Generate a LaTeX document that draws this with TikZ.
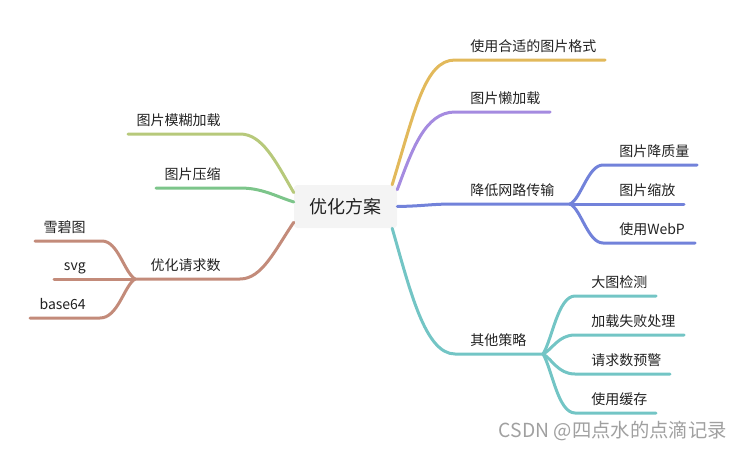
\documentclass[tikz,border=0pt]{standalone}
\usepackage{fontspec}
\setmainfont{Noto Sans CJK SC}
\definecolor{rootgray}{HTML}{F4F4F4}
\definecolor{cfmt}{HTML}{E2B95B}
\definecolor{clazy}{HTML}{A58BE0}
\definecolor{cnet}{HTML}{7282DA}
\definecolor{cmisc}{HTML}{73C5C5}
\definecolor{cblur}{HTML}{B7C97B}
\definecolor{czip}{HTML}{7CC58A}
\definecolor{creq}{HTML}{C38B7A}
\definecolor{wmgray}{HTML}{A0A0A0}
\begin{document}
\begin{tikzpicture}[x=0.75pt, y=-0.75pt,
  every node/.style={inner sep=0pt, font=\fontsize{10.5}{12}\selectfont, text=black!87},
  root/.style={fill=rootgray, rounded corners=2.5pt, minimum width=77.25pt,
    minimum height=32.25pt, font=\fontsize{13.5}{16}\selectfont},
  br/.style={line width=2.25pt, line cap=round},
  labr/.style={anchor=base west},
  labl/.style={anchor=base east}
]
  \useasboundingbox (0,0) rectangle (744,450);

  \node[root] (root) at (345.5,206.5) {优化方案};

  % right side
  \coordinate (fmtA) at (455,60);   \coordinate (fmtB) at (605,60);
  \coordinate (lazyA) at (455,112); \coordinate (lazyB) at (550,112);
  \coordinate (netA) at (455,204);  \coordinate (netF) at (570,204);
  \coordinate (miscA) at (455,354); \coordinate (miscF) at (543,354);

  \draw[br, cfmt] (root.25) .. controls (415,110) and (425,60) .. (fmtA) -- (fmtB);
  \draw[br, clazy] (root.18) .. controls (412,150) and (425,112) .. (lazyA) -- (lazyB);
  \draw[br, cnet] (root.east) .. controls (425,206) and (430,204) .. (netA) -- (netF);
  \draw[br, cmisc] (root.-25) .. controls (410,290) and (425,354) .. (miscA) -- (miscF);

  \node[labr] (fmt) at (470,51) {使用合适的图片格式};
  \node[labr] (lazy) at (470,103) {图片懒加载};
  \node[labr] (net) at (470,195) {降低网路传输};
  \node[labr] (misc) at (470,345) {其他策略};

  % 降低网路传输
  \coordinate (q1A) at (603,165); \coordinate (q1B) at (697,165);
  \coordinate (q2B) at (684,204);
  \coordinate (q3A) at (603,243); \coordinate (q3B) at (695,243);
  \draw[br, cnet] (netF) .. controls (581,199) and (588,165) .. (q1A) -- (q1B);
  \draw[br, cnet] (netF) -- (q2B);
  \draw[br, cnet] (netF) .. controls (581,209) and (588,243) .. (q3A) -- (q3B);
  \node[labr] (q1) at (619,156) {图片降质量};
  \node[labr] (q2) at (619,195) {图片缩放};
  \node[labr] (q3) at (619,234) {使用WebP};

  % 其他策略
  \coordinate (m1A) at (575,296); \coordinate (m1B) at (656,296);
  \coordinate (m2A) at (575,335); \coordinate (m2B) at (684,335);
  \coordinate (m3A) at (575,374); \coordinate (m3B) at (670,374);
  \coordinate (m4A) at (575,413); \coordinate (m4B) at (656,413);
  \draw[br, cmisc] (miscF) .. controls (552,340) and (558,296) .. (m1A) -- (m1B);
  \draw[br, cmisc] (miscF) .. controls (552,350) and (558,335) .. (m2A) -- (m2B);
  \draw[br, cmisc] (miscF) .. controls (552,359) and (558,374) .. (m3A) -- (m3B);
  \draw[br, cmisc] (miscF) .. controls (552,369) and (558,413) .. (m4A) -- (m4B);
  \node[labr] (m1) at (591,287) {大图检测};
  \node[labr] (m2) at (591,326) {加载失败处理};
  \node[labr] (m3) at (591,365) {请求数预警};
  \node[labr] (m4) at (591,404) {使用缓存};

  % left side
  \coordinate (blurA) at (240,134); \coordinate (blurB) at (128,134);
  \coordinate (zipA) at (240,188);  \coordinate (zipB) at (156,188);
  \coordinate (reqA) at (240,279);  \coordinate (reqF) at (135,279);

  \draw[br, cblur] (root.165) .. controls (275,160) and (262,134) .. (blurA) -- (blurB);
  \draw[br, czip] (root.175) .. controls (275,196) and (262,188) .. (zipA) -- (zipB);
  \draw[br, creq] (root.197) .. controls (275,250) and (262,279) .. (reqA) -- (reqF);

  \node[labl] (blur) at (221,125) {图片模糊加载};
  \node[labl] (zip) at (221,179) {图片压缩};
  \node[labl] (req) at (221,270) {优化请求数};

  % 优化请求数
  \coordinate (r1A) at (102,241); \coordinate (r1B) at (35,241);
  \coordinate (r2B) at (54,279);
  \coordinate (r3A) at (100,318); \coordinate (r3B) at (30,318);
  \draw[br, creq] (reqF) .. controls (124,272) and (118,241) .. (r1A) -- (r1B);
  \draw[br, creq] (reqF) -- (r2B);
  \draw[br, creq] (reqF) .. controls (124,286) and (118,318) .. (r3A) -- (r3B);
  \node[labl] (r1) at (86,232) {雪碧图};
  \node[labl] (r2) at (86,270) {svg};
  \node[labl] (r3) at (86,309) {base64};

  \node[anchor=base east, text=wmgray, font=\fontsize{14.5}{16}\selectfont] (wm) at (727,437)
    {CSDN @四点水的点滴记录};
\end{tikzpicture}
\end{document}
